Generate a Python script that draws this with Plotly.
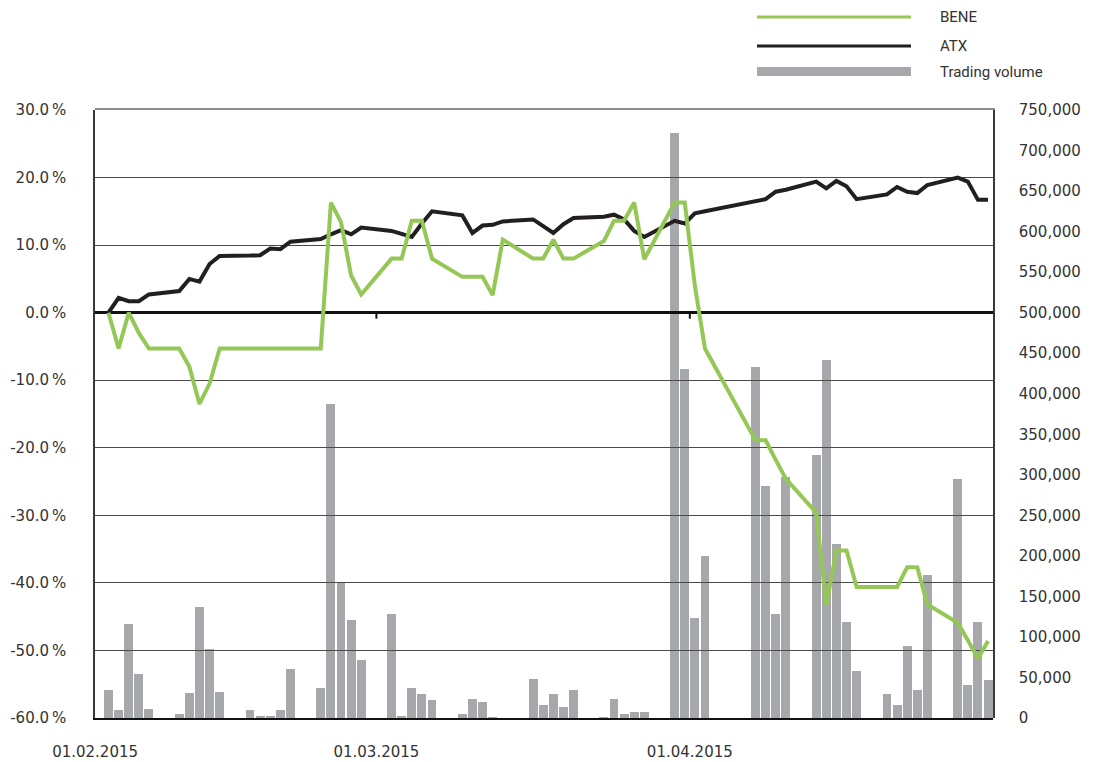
import plotly.graph_objects as go

# ---------------- data ----------------
dates = [
    "2015-02-02", "2015-02-03", "2015-02-04", "2015-02-05", "2015-02-06",
    "2015-02-09", "2015-02-10", "2015-02-11", "2015-02-12", "2015-02-13",
    "2015-02-16", "2015-02-17", "2015-02-18", "2015-02-19", "2015-02-20",
    "2015-02-23", "2015-02-24", "2015-02-25", "2015-02-26", "2015-02-27",
    "2015-03-02", "2015-03-03", "2015-03-04", "2015-03-05", "2015-03-06",
    "2015-03-09", "2015-03-10", "2015-03-11", "2015-03-12", "2015-03-13",
    "2015-03-16", "2015-03-17", "2015-03-18", "2015-03-19", "2015-03-20",
    "2015-03-23", "2015-03-24", "2015-03-25", "2015-03-26", "2015-03-27",
    "2015-03-30", "2015-03-31", "2015-04-01", "2015-04-02",
    "2015-04-07", "2015-04-08", "2015-04-09", "2015-04-10",
    "2015-04-13", "2015-04-14", "2015-04-15", "2015-04-16", "2015-04-17",
    "2015-04-20", "2015-04-21", "2015-04-22", "2015-04-23", "2015-04-24",
    "2015-04-27", "2015-04-28", "2015-04-29", "2015-04-30",
]

bene = [
    0.0, -5.3, 0.0, -3.0, -5.3,
    -5.3, -8.0, -13.5, -10.5, -5.3,
    -5.3, -5.3, -5.3, -5.3, -5.3,
    -5.3, 16.3, 13.4, 5.5, 2.7,
    8.0, 8.0, 13.6, 13.6, 8.0,
    5.3, 5.3, 5.3, 2.6, 10.8,
    8.0, 8.0, 10.8, 8.0, 8.0,
    10.6, 13.6, 13.6, 16.3, 7.9,
    16.3, 16.3, 4.0, -5.3,
    -18.9, -18.9, -21.8, -24.6,
    -29.6, -43.3, -35.2, -35.2, -40.6,
    -40.6, -40.6, -37.7, -37.7, -43.2,
    -45.9, -48.5, -51.2, -48.6,
]

atx = [
    0.0, 2.2, 1.7, 1.7, 2.7,
    3.2, 5.0, 4.6, 7.2, 8.4,
    8.45, 8.5, 9.5, 9.4, 10.5,
    10.9, 11.6, 12.2, 11.6, 12.6,
    12.1, 11.7, 11.2, 13.2, 15.0,
    14.4, 11.8, 12.9, 13.0, 13.5,
    13.8, 12.8, 11.8, 13.1, 14.0,
    14.2, 14.5, 13.8, 12.1, 11.2,
    13.6, 13.2, 14.7, 15.0,
    16.5, 16.8, 17.9, 18.2,
    19.4, 18.4, 19.5, 18.7, 16.8,
    17.5, 18.6, 17.9, 17.7, 18.9,
    20.0, 19.4, 16.7, 16.7,
]

volume = [
    34900, 10300, 116300, 54600, 11500,
    5300, 31200, 137300, 85500, 32400,
    10200, 2800, 2800, 10200, 60800,
    37400, 387300, 166100, 120900, 71500,
    128300, 2500, 37000, 29600, 22200,
    4900, 23400, 19700, 1200, 0,
    48100, 16000, 29600, 13600, 34500,
    1200, 23400, 4900, 7400, 7400,
    721300, 430500, 123400, 199800,
    433000, 286200, 128300, 297300,
    324400, 441600, 214600, 118400, 58000,
    29600, 16000, 88800, 34500, 176400,
    294800, 40700, 118400, 46900,
]

x_range = ["2015-01-31 16:00", "2015-04-30 11:45"]
x_tick_vals = ["2015-01-31 16:10", "2015-02-28 12:00", "2015-03-31 12:00"]
x_tick_text = ["01.02.2015", "01.03.2015", "01.04.2015"]
pct_ticks = [-60, -50, -40, -30, -20, -10, 0, 10, 20, 30]
vol_ticks = [0, 50000, 100000, 150000, 200000, 250000, 300000, 350000,
             400000, 450000, 500000, 550000, 600000, 650000, 700000, 750000]
series_names = ["BENE", "ATX", "Trading volume"]

pct_text = [f"{v:.1f}\u2009%" for v in pct_ticks]
vol_text = [f"{v:,}" for v in vol_ticks]

# ---------------- styles ----------------
GREEN = "#95c756"
BLACK = "#231f20"
GREY = "#a7a8ab"
TICKFONT = dict(family="DejaVu Sans", size=15, color="#333333")

fig = go.Figure()
fig.add_trace(go.Bar(
    x=dates, y=volume, xaxis="x", yaxis="y", name=series_names[2],
    marker=dict(color=GREY, line=dict(width=0)), width=0.88 * 86400000,
    showlegend=False, hoverinfo="x+y",
))
fig.add_trace(go.Scatter(
    x=dates, y=atx, xaxis="x2", yaxis="y2", mode="lines", name=series_names[1],
    line=dict(color=BLACK, width=4), showlegend=False,
))
fig.add_trace(go.Scatter(
    x=dates, y=bene, xaxis="x2", yaxis="y2", mode="lines", name=series_names[0],
    line=dict(color=GREEN, width=4), showlegend=False,
))

fig.update_layout(
    width=1095, height=762, autosize=False,
    margin=dict(l=95, r=102, t=110, b=44, autoexpand=False),
    paper_bgcolor="white", plot_bgcolor="rgba(0,0,0,0)",
    bargap=0,
    xaxis=dict(
        domain=[0, 1], anchor="y", type="date", range=x_range, side="top",
        showline=True, linecolor="#8c8c8c", linewidth=1.5, automargin=False,
        showgrid=False, zeroline=False, showticklabels=False, ticks="",
    ),
    yaxis=dict(
        domain=[0, 1], anchor="x", side="right", range=[0, 750000],
        tickvals=vol_ticks, ticktext=vol_text, tickfont=TICKFONT,
        showgrid=False, zeroline=False, showline=True, linecolor="#3a3a3a",
        linewidth=1.5, ticks="", ticklabelstandoff=21, automargin=False,
    ),
    xaxis2=dict(
        domain=[0, 1], anchor="y2", type="date", range=x_range, side="bottom",
        showline=True, linecolor="#111111", linewidth=1.5,
        showgrid=False, zeroline=False, ticks="", automargin=False,
        tickvals=x_tick_vals, ticktext=x_tick_text, tickfont=TICKFONT,
        ticklabelstandoff=19,
    ),
    yaxis2=dict(
        domain=[0, 1], anchor="x2", side="left", range=[-60, 30],
        tickvals=pct_ticks, ticktext=pct_text,
        tickfont=TICKFONT, ticks="", ticklabelstandoff=24, automargin=False,
        showgrid=True, gridcolor="#4a4a4a", gridwidth=1.2,
        zeroline=True, zerolinecolor="#111111", zerolinewidth=2.5,
        showline=True, linecolor="#3a3a3a", linewidth=1.5,
    ),
    showlegend=False,
)

# tick marks on the zero line
for tv in x_tick_vals[1:]:
    fig.add_shape(type="line", xref="x2", yref="y2", x0=tv, x1=tv,
                  ysizemode="pixel", yanchor=0, y0=0, y1=-6,
                  line=dict(color="#111111", width=2))

# manual legend (top right)
legend_items = [
    (series_names[0], GREEN, "line", 1.1530),
    (series_names[1], BLACK, "line", 1.1053),
    (series_names[2], GREY, "bar", 1.0633),
]
for name, color, kind, yy in legend_items:
    if kind == "line":
        fig.add_shape(type="line", xref="paper", yref="paper",
                      x0=0.7372, x1=0.9087, y0=yy, y1=yy,
                      line=dict(color=color, width=3))
    else:
        fig.add_shape(type="rect", xref="paper", yref="paper",
                      x0=0.7372, x1=0.9087, y0=yy - 0.0075, y1=yy + 0.0075,
                      line=dict(width=0), fillcolor=color)
    fig.add_annotation(xref="paper", yref="paper", x=0.9385, y=yy,
                       xanchor="left", yanchor="middle", text=name,
                       showarrow=False,
                       font=dict(family="Roboto", size=15, color="#333333"))

fig.write_html(
    "out.html",
    config={"displayModeBar": False},
    post_script="document.body.style.margin='0';document.body.style.padding='0';",
)
